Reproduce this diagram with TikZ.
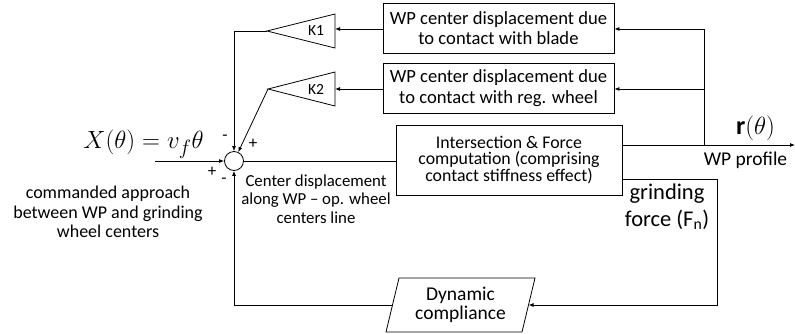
\documentclass[tikz,border=0pt]{standalone}
\usepackage{fontspec}
\setmainfont{Carlito}
\usetikzlibrary{arrows.meta,calc}
\begin{document}
\begin{tikzpicture}[x=1pt,y=-1pt,
  line width=0.8pt,
  arr/.style={-{Latex[length=5pt,width=4pt]}},
  blockbox/.style={draw,align=center,inner sep=0pt,font=\fontsize{18.6}{20.5}\selectfont},
  lbl/.style={align=center,inner sep=0pt},
  sign/.style={inner sep=0pt,font=\fontsize{17}{17}\selectfont},
  gain/.style={inner sep=0pt,font=\fontsize{15.5}{15.5}\selectfont}]
\useasboundingbox (0,0) rectangle (795,333);

% summing junction
\node[draw,circle,minimum size=19pt,inner sep=0pt] (sum) at (234,161) {};

% upper feedback blocks
\node[blockbox,minimum width=231pt,minimum height=50pt] (b1) at (498.5,28)
  {WP center displacement due\\to contact with blade};
\node[blockbox,minimum width=231pt,minimum height=50pt] (b2) at (498.5,88)
  {WP center displacement due\\to contact with reg. wheel};

% gains K1, K2 (triangles)
\coordinate (k1apex) at (267,31);
\coordinate (k1base) at (335,29);
\draw (k1apex) -- (335,14) -- (335,48) -- cycle;
\node[gain] (k1) at (316,31) {K1};
\coordinate (k2apex) at (268,89);
\coordinate (k2base) at (335,89);
\draw (k2apex) -- (335,72) -- (335,106) -- cycle;
\node[gain] (k2) at (316,89) {K2};

% intersection & force block
\node[draw,align=center,inner sep=0pt,minimum width=226pt,minimum height=70pt,
  font=\fontsize{17.8}{16.5}\selectfont] (ib) at (509,160)
  {Intersection \& Force\\computation (comprising\\contact stiffness effect)};

% dynamic compliance (parallelogram)
\draw (386,332) -- (399,278) -- (535,278) -- (522,332) -- cycle;
\node[lbl,font=\fontsize{19.5}{18.5}\selectfont] (dc) at (460.5,305) {Dynamic\\compliance};
\coordinate (dcL) at (392.5,305);
\coordinate (dcR) at (528.5,305);

% routing points
\coordinate (in) at (155,161);
\coordinate (ibout) at (622,145);
\coordinate (out) at (795,145);
\coordinate (tap) at (704,145);
\coordinate (fout) at (622,179);
\coordinate (fcorner) at (717,179);

% connectors
\draw[arr] (in) -- (sum.west);
\draw (sum.east) -- (ib.west |- sum.east);
\draw[arr] (ibout) -- (out);
\draw (tap) -- (704,29);
\draw[arr] (704,29) -- (b1.east |- 0,29);
\draw[arr] (704,89) -- (b2.east |- 0,89);
\draw[arr] (b1.west |- k1base) -- (k1base);
\draw[arr] (b2.west |- k2base) -- (k2base);
\draw[arr] (k1apex) -- (sum.north |- k1apex) -- (sum.north);
\draw[arr] (k2apex) -- (sum);
\draw[arr] (fout) -- (fcorner) |- (dcR);
\draw[arr] (dcL) -| (sum.south);

% signs
\node[sign] (s1) at (225,138) {-};
\node[sign] (s2) at (253,144) {+};
\node[sign] (s3) at (212,172) {+};
\node[sign] (s4) at (224,181) {-};

% labels
\node[inner sep=0pt,font=\fontsize{32}{32}\selectfont] (xin) at (143.5,144) {$X(\theta) = v_f\theta$};
\node[lbl,font=\fontsize{18}{19.5}\selectfont] (cmd) at (108,212)
  {commanded approach\\between WP and grinding\\wheel centers};
\node[lbl,font=\fontsize{16.8}{18.5}\selectfont] (cd) at (316,199)
  {Center displacement\\along WP -- op. wheel\\centers line};
\node[lbl,font=\fontsize{22.5}{27}\selectfont] (gf) at (667,207)
  {grinding\\force (F\textsubscript{n})};
\node[inner sep=0pt,font=\fontsize{26}{26}\selectfont] (r) at (755.5,128) {$\mathbf{r}(\theta)$};
\node[inner sep=0pt,font=\fontsize{19.5}{19.5}\selectfont] (wpp) at (745.5,160) {WP profile};
\end{tikzpicture}
\end{document}
